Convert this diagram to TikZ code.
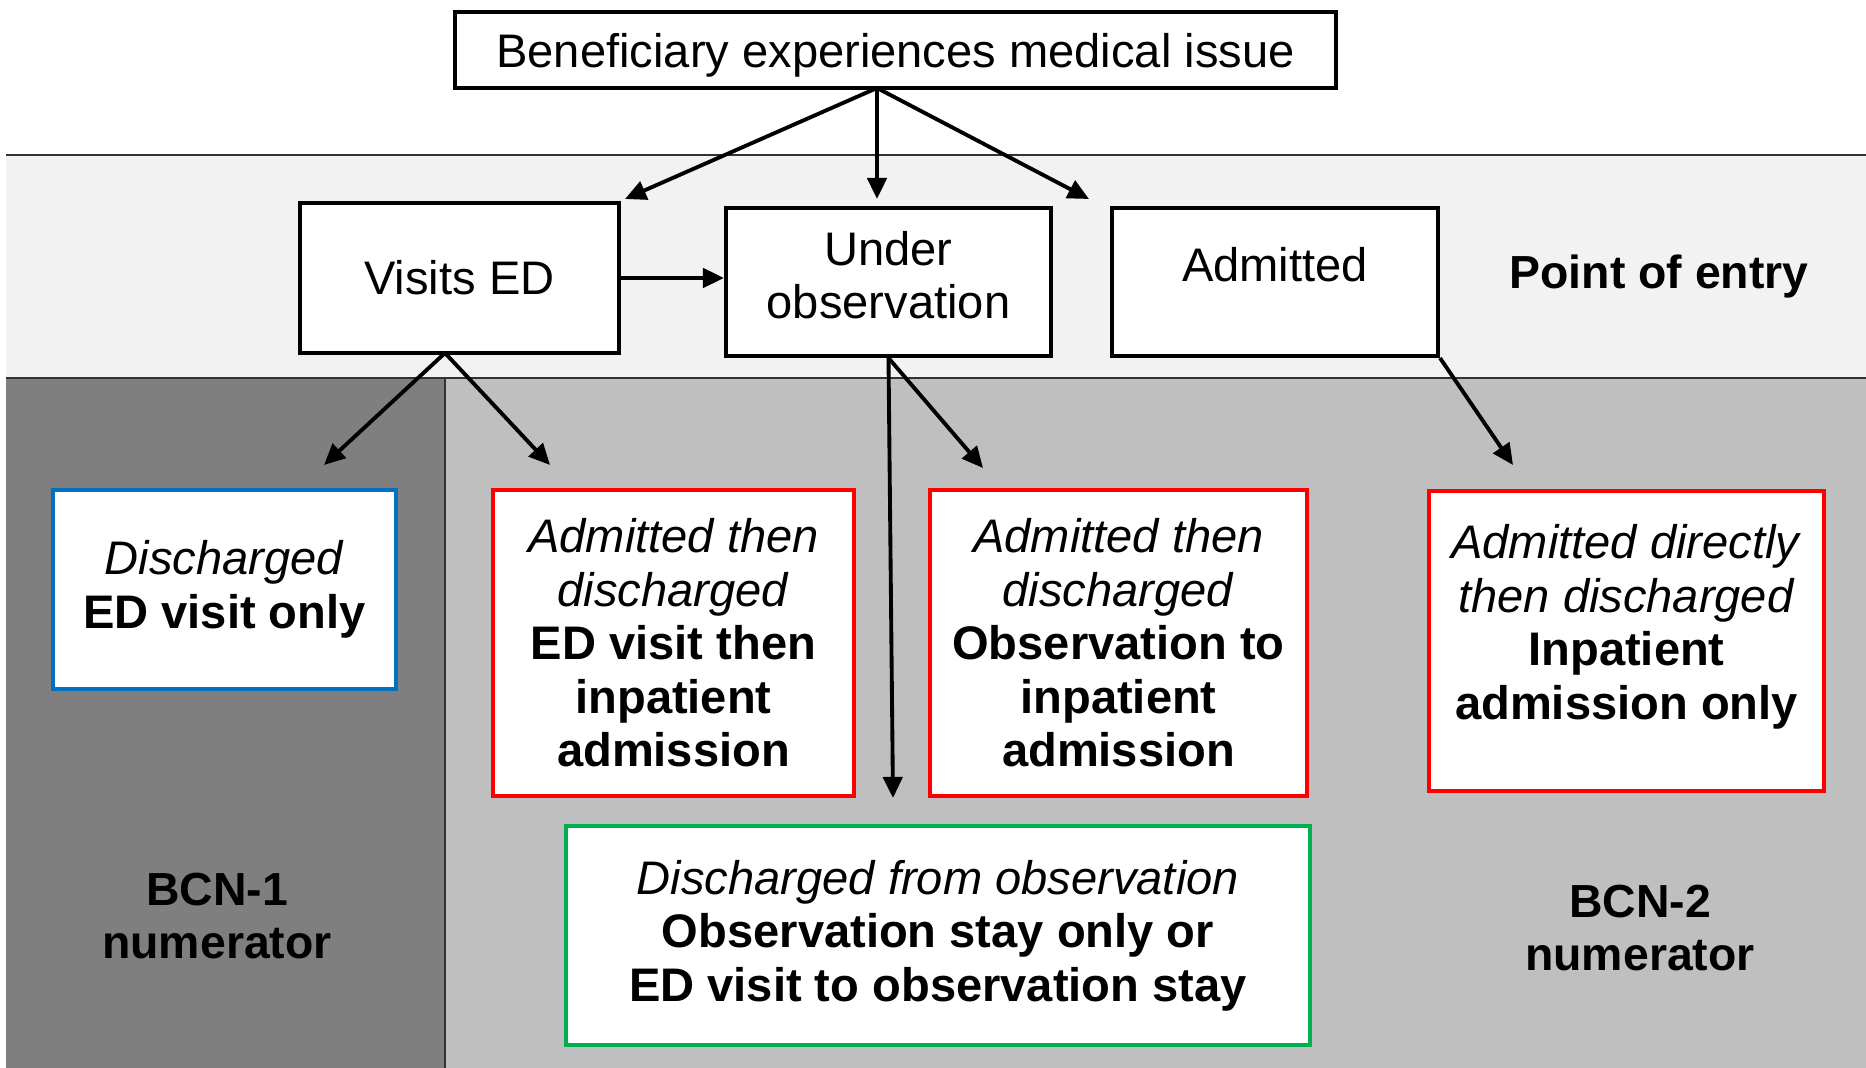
\documentclass[tikz,border=0pt]{standalone}
\usepackage{fontspec}
\setmainfont{Liberation Sans}
\usetikzlibrary{arrows.meta}

\definecolor{bandgray}{HTML}{F2F2F2}
\definecolor{bcnonegray}{HTML}{7F7F7F}
\definecolor{bcntwogray}{HTML}{BFBFBF}
\definecolor{edblue}{HTML}{0070C0}
\definecolor{inptred}{HTML}{FF0000}
\definecolor{obsgreen}{HTML}{00B050}

\tikzset{
  box/.style={draw, line width=1.15pt, fill=white, align=center, inner sep=0pt,
    font=\fontsize{13.4}{15.2}\selectfont},
  flow/.style={-{Triangle[length=6pt,width=5.5pt]}, line width=1.1pt},
  divider/.style={line width=0.4pt, black!80},
}

\begin{document}
\begin{tikzpicture}[x=0.1mm,y=-0.1mm]
\useasboundingbox (0,0) rectangle (1866,1068);

% background bands
\fill[bandgray] (6,155) rectangle (1866,378);
\fill[bcnonegray] (6,378) rectangle (445,1068);
\fill[bcntwogray] (445,378) rectangle (1866,1068);
\draw[divider] (6,155) -- (1866,155);
\draw[divider] (6,378) -- (1866,378);
\draw[divider] (445,378) -- (445,1068);

% top and point of entry
\node[box, minimum width=88.1mm, minimum height=7.6mm] (issue) at (895.5,50) {\rule{0pt}{4.4mm}Beneficiary experiences medical issue};

\node[box, minimum width=31.9mm, minimum height=15mm] (visits) at (459.5,278) {Visits ED};
\node[box, minimum width=32.5mm, minimum height=14.8mm] (obs) at (888.5,282) {Under\\observation\rule[-1.4mm]{0pt}{0pt}};
\node[box, minimum width=32.6mm, minimum height=14.8mm, text height=7.4mm, text depth=7.4mm] (admit) at (1275,282) {Admitted};

\node[font=\fontsize{13.2}{15.2}\selectfont\bfseries] (entry) at (1659,277) {Point of entry};

% outcomes
\node[box, draw=edblue, minimum width=34.3mm, minimum height=19.9mm] (edonly) at (224.5,589.5)
  {\textit{Discharged}\\\textbf{ED visit only}};
\node[box, draw=inptred, minimum width=36.1mm, minimum height=30.6mm] (edinpt) at (673.5,643)
  {\textit{Admitted then}\\\textit{discharged}\\\textbf{ED visit then}\\\textbf{inpatient}\\\textbf{admission}};
\node[box, draw=inptred, minimum width=37.7mm, minimum height=30.6mm] (obsinpt) at (1118.5,643)
  {\textit{Admitted then}\\\textit{discharged}\\\textbf{Observation to}\\\textbf{inpatient}\\\textbf{admission}};
\node[box, draw=inptred, minimum width=39.5mm, minimum height=30mm] (inptonly) at (1626.5,641)
  {\textit{Admitted directly}\\\textit{then discharged}\\\textbf{Inpatient}\\\textbf{admission only}\rule[-3.8mm]{0pt}{0pt}};
\node[box, draw=obsgreen, minimum width=74.4mm, minimum height=21.9mm] (obsonly) at (938,935.5)
  {\textit{Discharged from observation}\\\textbf{Observation stay only or}\\\textbf{ED visit to observation stay}};

\node[align=center, font=\fontsize{13.2}{15.2}\selectfont\bfseries] (bcnone) at (217,916) {BCN-1\\numerator};
\node[align=center, font=\fontsize{13.2}{15.2}\selectfont\bfseries] (bcntwo) at (1640,928) {BCN-2\\numerator};

% arrows
\coordinate (fork) at (877,88);
\coordinate (tvisits) at (625,199);
\coordinate (tobs) at (877,199);
\coordinate (tadmit) at (1089,199);
\draw[flow] (fork) -- (tvisits);
\draw[flow] (fork) -- (tobs);
\draw[flow] (fork) -- (tadmit);

\draw[flow] (visits.east) -- (visits.east -| obs.west);

\coordinate (vfork) at (445,353);
\coordinate (tedonly) at (324,465);
\coordinate (tedinpt) at (550,465);
\draw[flow] (vfork) -- (tedonly);
\draw[flow] (vfork) -- (tedinpt);

\coordinate (tobsonly) at (893,798);
\coordinate (tobsinpt) at (983,468);
\draw[flow] (obs.south) -- (tobsonly);
\draw[flow] (obs.south) -- (tobsinpt);

\coordinate (tinptonly) at (1513,465);
\draw[flow] (admit.south east) -- (tinptonly);

\end{tikzpicture}
\end{document}
